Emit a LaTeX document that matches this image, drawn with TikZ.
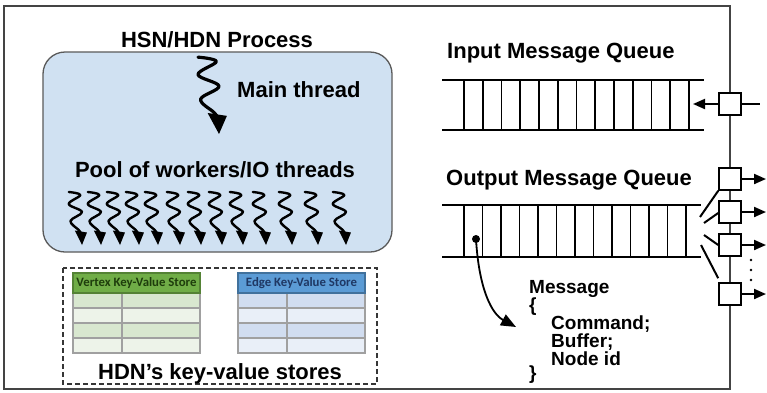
\documentclass[tikz,border=0pt]{standalone}
\usepackage{fontspec}
\setmainfont{Liberation Sans}
\newfontfamily\tablefont{Carlito}
\usetikzlibrary{arrows.meta,calc}

\definecolor{procfill}{HTML}{D0E1F2}
\definecolor{procline}{HTML}{5A5A5A}
\definecolor{framecol}{HTML}{444444}
\definecolor{vhead}{HTML}{70AD47}
\definecolor{vheadline}{HTML}{548235}
\definecolor{vrowA}{HTML}{D8E7CF}
\definecolor{vrowB}{HTML}{EDF3E9}
\definecolor{ehead}{HTML}{5B9BD5}
\definecolor{eheadline}{HTML}{41719C}
\definecolor{erowA}{HTML}{D1DDF0}
\definecolor{erowB}{HTML}{E9EFF8}
\definecolor{gridgray}{HTML}{A0A0A0}
\definecolor{vtext}{HTML}{1E3D0C}
\definecolor{etext}{HTML}{1F3864}

% a wavy thread ending in a filled arrowhead;
% #1,#2 tip, #3 horizontal scale, #4 vertical scale, #5 stroke width
\newcommand\wthread[5]{%
  \begin{scope}[shift={(#1,#2)},xscale=#3,yscale=#4]
    \draw[line width=#5,line cap=round,line join=round]
      plot[smooth,tension=0.6] coordinates
      {(-12,-53) (-1.5,-50) (-12,-41) (0,-33) (-10.5,-24) (-3,-15) (-1,-12)};
    \fill (-6.5,-14.5) -- (4.5,-12.5) -- (0,0) -- cycle;
  \end{scope}}

% a key-value table; #1 left x, #2 header fill, #3 header border, #4 row fill A,
% #5 row fill B, #6 title colour, #7 title, #8 node name
\newcommand\kvtable[8]{%
  \fill[#2] (#1,273) rectangle ++(127,20);
  \fill[#4] (#1,293) rectangle ++(127,15);
  \fill[#5] (#1,308) rectangle ++(127,15);
  \fill[#4] (#1,323) rectangle ++(127,15);
  \fill[#5] (#1,338) rectangle ++(127,15);
  \draw[gridgray,line width=1.3] (#1,293) rectangle ++(127,60);
  \foreach \yy in {308,323,338} \draw[gridgray,line width=1.3] (#1,\yy) -- ++(127,0);
  \draw[gridgray,line width=1.3] ($(#1,293)+(49,0)$) -- ++(0,60);
  \draw[#3,line width=1.3] (#1,273) rectangle ++(127,20);
  \node[text=#6,font=\tablefont\bfseries\fontsize{12.8}{12.8}\selectfont,inner sep=0]
    (#8) at ($(#1,283.5)+(63.5,0)$) {#7};}

\tikzset{
  bigtext/.style={font=\bfseries\fontsize{22}{22}\selectfont,inner sep=0,text=black},
  msgtext/.style={font=\bfseries\fontsize{19}{19}\selectfont,inner sep=0,anchor=base west,text=black},
  qline/.style={line width=2.2},
  qbar/.style={line width=1.8},
  qbox/.style={draw,fill=white,minimum size=22,inner sep=0,line width=1.6},
  outarrow/.style={line width=2,-{Triangle[length=12pt,width=10pt]}},
  fanline/.style={line width=2},
}

\begin{document}
\begin{tikzpicture}[x=1pt,y=-1pt]
\useasboundingbox (0,0) rectangle (767,392);
\fill[white] (0,0) rectangle (767,392);

% outer frame
\draw[framecol,line width=1.2] (730,389) -- (730,6) -- (4,6) -- (4,389) -- cycle;

% process box
\draw[procline,fill=procfill,line width=1.3,rounded corners=22] (43,52) rectangle (392,252);
\node[bigtext,anchor=base] (proc) at (217,47) {HSN/HDN Process};
\wthread{219}{134}{1.75}{1.45}{3.2}
\node[bigtext,anchor=base west] (main) at (237,97) {Main thread};
\node[bigtext,anchor=base] (pool) at (215,177) {Pool of workers/IO threads};
\foreach \tx in {82,101,120,139,158,180,201,222,243,266,292,318,346}
  \wthread{\tx}{245}{1.1}{1}{2.4};

% key-value stores
\draw[framecol!80!black,line width=1.5,dash pattern=on 5pt off 3pt] (63,268) rectangle (377,384);
\kvtable{73}{vhead}{vheadline}{vrowA}{vrowB}{vtext}{Vertex Key-Value Store}{vkv}
\kvtable{238}{ehead}{eheadline}{erowA}{erowB}{etext}{Edge Key-Value Store}{ekv}
\node[bigtext,anchor=base] (stores) at (220,379) {HDN’s key-value stores};

% input message queue
\node[bigtext,anchor=base west] (inlabel) at (447,58) {Input Message Queue};
\draw[qline] (442,80) -- (704,80);
\draw[qline] (442,130) -- (704,130);
\foreach \i in {0,...,12} \draw[qbar] ({464+\i*18.75},80) -- ({464+\i*18.75},130);

% output message queue
\node[bigtext,anchor=base west] (outlabel) at (446,185) {Output Message Queue};
\draw[qline] (442,205) -- (701,205);
\draw[qline] (442,257) -- (701,257);
\foreach \i in {0,...,12} \draw[qbar] ({464+\i*18.5},205) -- ({464+\i*18.5},257);

% ports on the process boundary
\node[qbox] (inport) at (730,104) {};
\node[qbox] (out1) at (730,179) {};
\node[qbox] (out2) at (730,212) {};
\node[qbox] (out3) at (730,245) {};
\node[qbox] (out4) at (730,294) {};

\coordinate (intip) at (693,104);
\coordinate (inend) at (760,104);
\draw[outarrow] (inport.west) -- (intip);
\draw[line width=2] (inport.east) -- (inend);

\foreach \n/\yy in {out1/179,out2/212,out3/245,out4/294} {
  \coordinate (\n end) at (766,\yy);
  \draw[outarrow] (\n.east) -- (\n end);
}

% fan-out from the output queue to the ports
\coordinate (f1) at (700,217);
\coordinate (f2) at (704,223);
\coordinate (f3) at (704,235);
\coordinate (f4) at (701,245);
\draw[fanline] (f1) -- (out1.south west);
\draw[fanline] (f2) -- ($(out2.west)+(0,1)$);
\draw[fanline] (f3) -- (out3.west);
\draw[fanline] (f4) -- ($(out4.north west)+(0,-4)$);

\foreach \yy in {260,270,280} \fill (751,\yy) circle (1.3);

% message structure
\node[circle,fill,inner sep=0,minimum size=8] (dot) at (476,239) {};
\coordinate (msgtip) at (516,327);
\draw[line width=1.8,-{Triangle[length=15pt,width=12pt]}]
  (dot.center) .. controls (479,290) and (492,314) .. (msgtip);
\node[msgtext] (m1) at (529,293) {Message};
\node[msgtext] (m2) at (529,311) {\{};
\node[msgtext] (m3) at (551,329) {Command;};
\node[msgtext] (m4) at (551,347) {Buffer;};
\node[msgtext] (m5) at (551,365) {Node id};
\node[msgtext] (m6) at (529,379) {\}};
\end{tikzpicture}
\end{document}
